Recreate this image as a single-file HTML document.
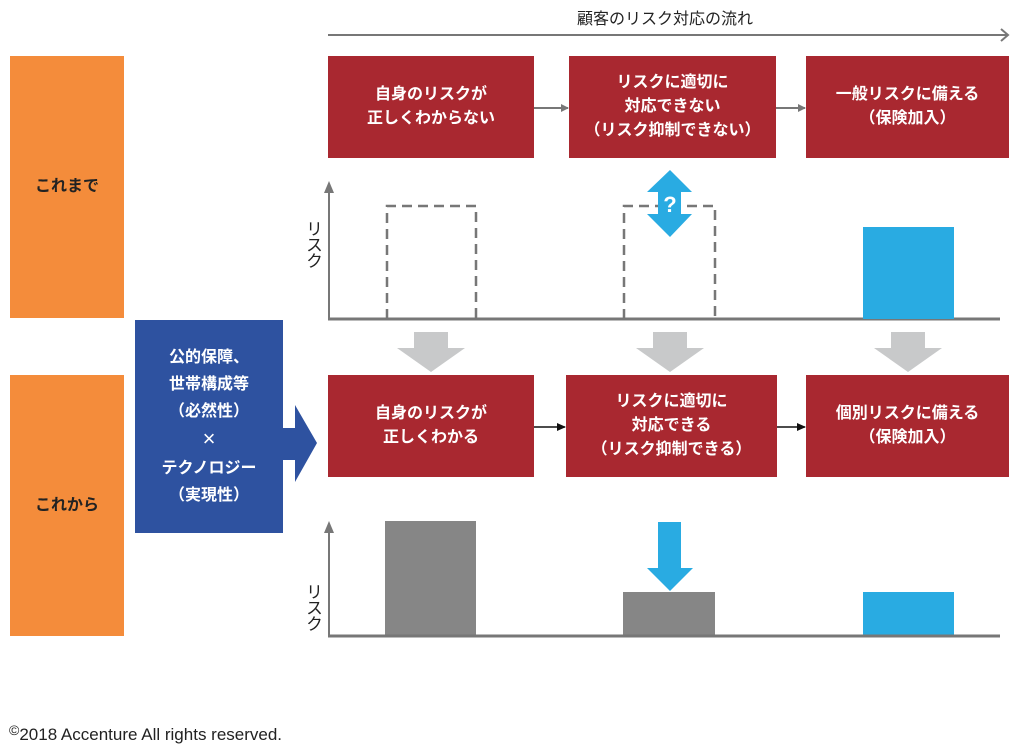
<!DOCTYPE html>
<html><head><meta charset="utf-8"><style>
html,body{margin:0;padding:0;background:#fff;}
body{width:1024px;height:749px;position:relative;overflow:hidden;font-family:"Liberation Sans","Noto Sans CJK JP",sans-serif;}
.b{position:absolute;display:flex;align-items:center;justify-content:center;text-align:center;color:#fff;font-weight:bold;font-size:16px;line-height:24px;}
.r{background:#a92830;}
.o{background:#f48c3b;color:#222;font-size:16px;}
.t{position:absolute;}
.v{position:absolute;writing-mode:vertical-rl;font-size:17px;color:#222;letter-spacing:-1px;}
</style></head><body>
<svg width="1024" height="749" style="position:absolute;left:0;top:0">
<defs>
<marker id="ga" markerWidth="8" markerHeight="8" refX="7" refY="4" orient="auto" markerUnits="userSpaceOnUse"><path d="M0,0 L8,4 L0,8 z" fill="#777"/></marker>
<marker id="ka" markerWidth="9" markerHeight="8" refX="8" refY="4" orient="auto" markerUnits="userSpaceOnUse"><path d="M0,0 L9,4 L0,8 z" fill="#111"/></marker>
</defs>
<line x1="328" y1="35" x2="1008" y2="35" stroke="#777" stroke-width="2"/>
<polyline points="1001,29 1008,35 1001,41" fill="none" stroke="#777" stroke-width="2"/>
<line x1="534" y1="108" x2="568" y2="108" stroke="#777" stroke-width="2" marker-end="url(#ga)"/>
<line x1="776" y1="108" x2="805" y2="108" stroke="#777" stroke-width="2" marker-end="url(#ga)"/>
<line x1="534" y1="427" x2="565" y2="427" stroke="#111" stroke-width="1.5" marker-end="url(#ka)"/>
<line x1="777" y1="427" x2="805" y2="427" stroke="#111" stroke-width="1.5" marker-end="url(#ka)"/>
<line x1="329" y1="190" x2="329" y2="319" stroke="#777" stroke-width="2"/>
<path d="M324,193 L329,181 L334,193 z" fill="#777"/>
<line x1="328" y1="319" x2="1000" y2="319" stroke="#777" stroke-width="3"/>
<path d="M387,319 V206 H476 V319" fill="none" stroke="#777" stroke-width="2.5" stroke-dasharray="10,6"/>
<path d="M624,319 V206 H715 V319" fill="none" stroke="#777" stroke-width="2.5" stroke-dasharray="10,6"/>
<rect x="863" y="227" width="91" height="92" fill="#29abe2"/>
<path d="M670,170 L692,192 L681,192 L681,214 L692,214 L670,237 L647,214 L658,214 L658,192 L647,192 z" fill="#29abe2"/>
<text x="670" y="212" text-anchor="middle" font-size="22" font-weight="bold" fill="#fff" font-family="Liberation Sans">?</text>
<g fill="#c8c9ca">
<path d="M414,332 H448 V348 H465 L431,372 L397,348 H414 z"/>
<path d="M653,332 H687 V348 H704 L670,372 L636,348 H653 z"/>
<path d="M891,332 H925 V348 H942 L908,372 L874,348 H891 z"/>
</g>
<path d="M283,428 H295 V405 L317,443 L295,482 V460 H283 z" fill="#2e52a0"/>
<line x1="329" y1="530" x2="329" y2="636" stroke="#777" stroke-width="2"/>
<path d="M324,533 L329,521 L334,533 z" fill="#777"/>
<rect x="385" y="521" width="91" height="115" fill="#868686"/>
<rect x="623" y="592" width="92" height="44" fill="#868686"/>
<rect x="863" y="592" width="91" height="44" fill="#29abe2"/>
<line x1="328" y1="636" x2="1000" y2="636" stroke="#777" stroke-width="3"/>
<path d="M658,522 H681 V568 H693 L670,591 L647,568 H658 z" fill="#29abe2"/>
</svg>
<div class="t" style="left:550px;top:5px;width:230px;text-align:center;font-size:16px;color:#222;">顧客のリスク対応の流れ</div>
<div class="b o" style="left:10px;top:56px;width:114px;height:262px;"><div>これまで</div></div>
<div class="b o" style="left:10px;top:375px;width:114px;height:261px;"><div>これから</div></div>
<div class="b" style="left:135px;top:320px;width:148px;height:213px;background:#2e52a0;line-height:27px;"><div>公的保障、<br>世帯構成等<br>（必然性）<br><span style="font-size:22px;font-weight:normal;">×</span><br>テクノロジー<br>（実現性）</div></div>
<div class="b r" style="left:328px;top:56px;width:206px;height:102px;"><div>自身のリスクが<br>正しくわからない</div></div>
<div class="b r" style="left:569px;top:56px;width:207px;height:102px;"><div>リスクに適切に<br>対応できない<br>（リスク抑制できない）</div></div>
<div class="b r" style="left:806px;top:56px;width:203px;height:102px;"><div>一般リスクに備える<br>（保険加入）</div></div>
<div class="b r" style="left:328px;top:375px;width:206px;height:102px;"><div>自身のリスクが<br>正しくわかる</div></div>
<div class="b r" style="left:566px;top:375px;width:211px;height:102px;"><div>リスクに適切に<br>対応できる<br>（リスク抑制できる）</div></div>
<div class="b r" style="left:806px;top:375px;width:203px;height:102px;"><div>個別リスクに備える<br>（保険加入）</div></div>
<div class="v" style="left:300px;top:220px;">リスク</div>
<div class="v" style="left:300px;top:583px;">リスク</div>
<div class="t" style="left:9px;top:722px;font-size:17px;color:#222;"><span style="font-size:14px;vertical-align:5px;">©</span>2018 Accenture All rights reserved.</div>
</body></html>
